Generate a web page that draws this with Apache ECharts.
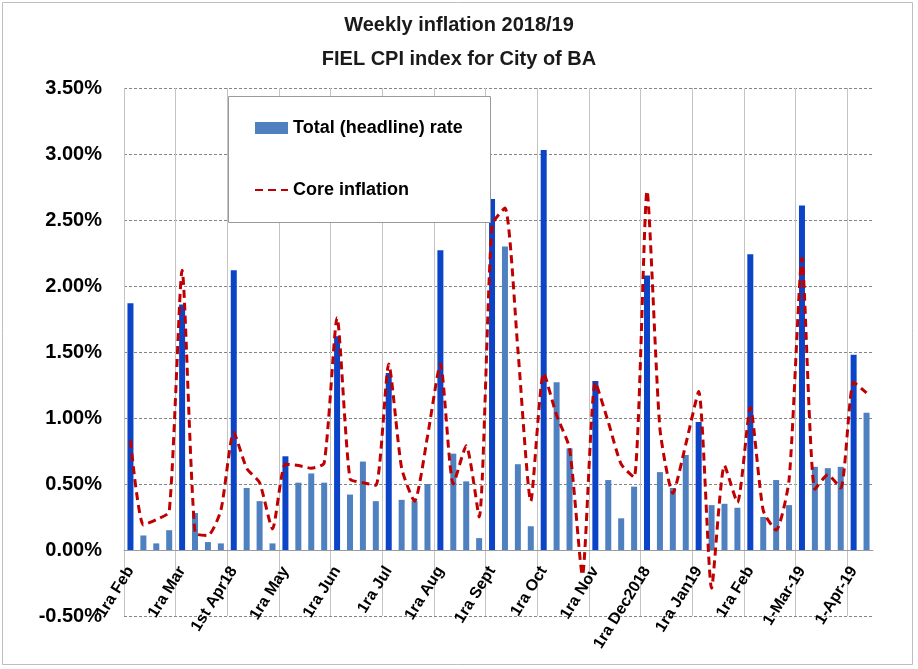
<!DOCTYPE html>
<html>
<head>
<meta charset="utf-8">
<script src="https://cdn.jsdelivr.net/npm/echarts@6/dist/echarts.min.js"></script>
<style>
  html, body { margin: 0; padding: 0; background: #fff; }
  #chart { width: 918px; height: 669px; }
</style>
</head>
<body>
<div id="chart"></div>
<script>
// Month-start labels, one every four weeks
const monthLabels = ['1ra Feb', '1ra Mar', '1st Apr18', '1ra May', '1ra Jun', '1ra Jul', '1ra Aug',
  '1ra Sept', '1ra Oct', '1ra Nov', '1ra Dec2018', '1ra Jan19', '1ra Feb', '1-Mar-19', '1-Apr-19'];

// Weekly headline rate, % (first week of each month is highlighted)
const headline = [
  1.87, 0.11, 0.05, 0.15,
  1.86, 0.28, 0.06, 0.05,
  2.12, 0.47, 0.37, 0.05,
  0.71, 0.51, 0.58, 0.51,
  1.62, 0.42, 0.67, 0.37,
  1.34, 0.38, 0.37, 0.50,
  2.27, 0.73, 0.52, 0.09,
  2.66, 2.30, 0.65, 0.18,
  3.03, 1.27, 0.77, 0.00,
  1.28, 0.53, 0.24, 0.48,
  2.08, 0.59, 0.47, 0.72,
  0.97, 0.34, 0.35, 0.32,
  2.24, 0.25, 0.53, 0.34,
  2.61, 0.63, 0.62, 0.63,
  1.48, 1.04
];

// Weekly core inflation, %
const core = [
  0.83, 0.19, 0.23, 0.29,
  2.12, 0.13, 0.11, 0.30,
  0.89, 0.62, 0.51, 0.16,
  0.65, 0.64, 0.62, 0.66,
  1.76, 0.54, 0.51, 0.49,
  1.41, 0.62, 0.37, 0.86,
  1.41, 0.50, 0.79, 0.25,
  2.46, 2.59, 1.52, 0.37,
  1.34, 1.02, 0.77, -0.19,
  1.27, 0.97, 0.65, 0.55,
  2.72, 0.92, 0.43, 0.80,
  1.20, -0.29, 0.64, 0.36,
  1.08, 0.30, 0.15, 0.53,
  2.21, 0.46, 0.57, 0.47,
  1.27, 1.19
];

const DARK = '#0c44c8';
const LIGHT = '#4f80c0';
const RED = '#c00000';
const FONT = 'Liberation Sans';
const WEEKS_PER_MONTH = 4;

const Y_MIN = -0.5;
const Y_MAX = 3.5;
const GRID = { left: 124, right: 45, top: 88, bottom: 53 };
const CHART_H = 669;

const weeks = headline.map((_, i) => 'Week ' + (i + 1));

// Boundary axis: one slot per two weeks, so month starts land on even slots
const slots = [];
for (let i = 0; i <= headline.length / 2; i++) slots.push('');

// lift the x axes from the bottom edge up to the 0% line
const plotH = CHART_H - GRID.top - GRID.bottom;
const zeroLift = plotH * (0 - Y_MIN) / (Y_MAX - Y_MIN);

const barData = headline.map((v, i) => i % WEEKS_PER_MONTH === 0 ? { value: v, itemStyle: { color: DARK } } : v);

const chart = echarts.init(document.getElementById('chart'), null, { renderer: 'canvas' });

chart.setOption({
  animation: false,
  backgroundColor: '#fff',
  title: {
    text: 'Weekly inflation 2018/19\nFIEL CPI index for City of BA',
    left: 'center',
    top: 3,
    textStyle: { fontFamily: FONT, fontSize: 20, fontWeight: 'bold', color: '#1a1a1a', lineHeight: 34 }
  },
  grid: Object.assign({ containLabel: false, outerBoundsMode: 'none' }, GRID),
  legend: {
    orient: 'vertical',
    left: 249,
    top: 114,
    itemWidth: 33,
    itemHeight: 12,
    itemGap: 44,
    z: 10,
    textStyle: { fontFamily: FONT, fontSize: 18, fontWeight: 'bold', color: '#000' },
    data: [
      { name: 'Total (headline) rate', icon: 'rect' },
      { name: 'Core inflation', itemStyle: { color: 'rgba(0,0,0,0)', borderWidth: 0, opacity: 0 } }
    ]
  },
  graphic: [
    {
      type: 'rect', z: 5, silent: true,
      shape: { x: 228.5, y: 96.5, width: 262, height: 126 },
      style: { fill: '#fff', stroke: '#9a9a9a', lineWidth: 1 }
    },
    {
      type: 'rect', z: 0, silent: true,
      shape: { x: 2.5, y: 2.5, width: 910, height: 662 },
      style: { fill: 'none', stroke: '#bdbdbd', lineWidth: 1 }
    }
  ],
  xAxis: [
    {
      // weekly axis: bars, core line and the month-start labels
      type: 'category',
      data: weeks,
      position: 'bottom',
      offset: -zeroLift,
      boundaryGap: true,
      axisLine: { show: false, onZero: false },
      axisTick: { show: false },
      axisLabel: {
        interval: (i) => i % WEEKS_PER_MONTH === 0,
        formatter: (value, i) => monthLabels[i / WEEKS_PER_MONTH] || '',
        rotate: 58,
        margin: 18,
        fontFamily: FONT,
        fontSize: 16,
        fontWeight: 'bold',
        color: '#000'
      },
      splitLine: { show: false }
    },
    {
      // boundary axis: month gridlines and the zero line
      type: 'category',
      data: slots,
      position: 'bottom',
      offset: -zeroLift,
      boundaryGap: false,
      axisLine: { show: true, onZero: false, lineStyle: { color: '#9c9c9c', width: 1 } },
      axisTick: { show: false },
      axisLabel: { show: false },
      splitLine: {
        show: true,
        interval: (i) => i % 2 === 0,
        lineStyle: { color: '#c4c4c4', width: 1 }
      }
    }
  ],
  yAxis: {
    type: 'value',
    min: Y_MIN,
    max: Y_MAX,
    interval: 0.5,
    axisLine: { show: false },
    axisTick: { show: false },
    axisLabel: {
      margin: 22,
      fontFamily: FONT,
      fontSize: 20,
      fontWeight: 'bold',
      color: '#000',
      formatter: (v) => v.toFixed(2) + '%'
    },
    splitLine: { show: true, lineStyle: { color: '#858585', width: 1, type: [3, 2] } }
  },
  series: [
    {
      name: 'Total (headline) rate',
      type: 'bar',
      xAxisIndex: 0,
      barWidth: 6,
      itemStyle: { color: LIGHT },
      data: barData,
      z: 2
    },
    {
      name: 'Core inflation',
      type: 'line',
      xAxisIndex: 0,
      data: core,
      symbol: 'none',
      smooth: 0.2,
      lineStyle: { color: RED, width: 3, type: [8, 5] },
      itemStyle: { color: RED },
      z: 3
    }
  ]
});
</script>
</body>
</html>
